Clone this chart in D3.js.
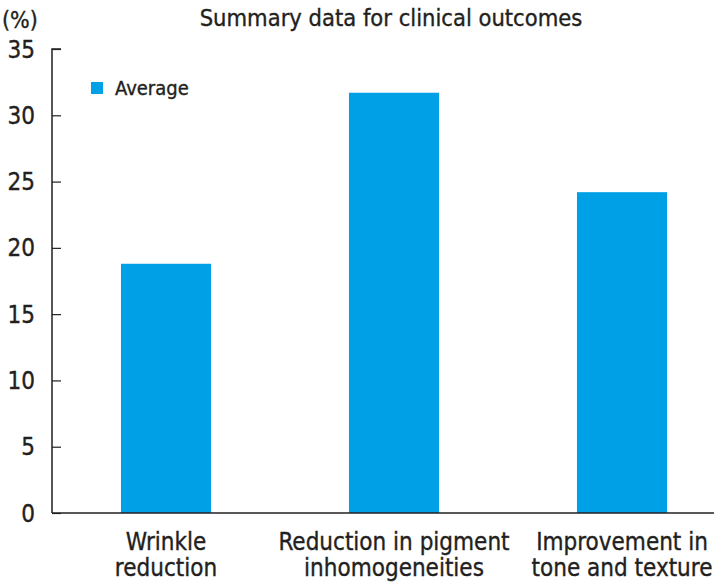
<!DOCTYPE html>
<html><head><meta charset="utf-8">
<script src="https://cdn.jsdelivr.net/npm/d3@7"></script>
<style>
body{margin:0;background:#fff}
text{font-family:"DejaVu Sans Condensed","Liberation Sans Narrow","Open Sans",sans-serif;fill:#231f20;stroke:#231f20;stroke-width:0.35px}
</style></head><body>
<svg id="c" width="714" height="583"></svg>
<script>
const categories = [["Wrinkle","reduction"],["Reduction in pigment","inhomogeneities"],["Improvement in","tone and texture"]];
const values = [18.8, 31.7, 24.2];
const yTicks = [0,5,10,15,20,25,30,35];
const seriesName = "Average";
const title = "Summary data for clinical outcomes";

const svg = d3.select("#c");
const x0 = 52, yBottom = 513, yTop = 49;
const x = d3.scaleBand().domain(d3.range(values.length)).range([x0, 736]).paddingInner(0.605).paddingOuter(0.3025);
const y = d3.scaleLinear().domain([0,35]).range([yBottom, yTop]);
const color = "#00a0e6";

svg.selectAll("rect.bar").data(values).join("rect").attr("class","bar")
  .attr("x",(d,i)=>x(i)).attr("width",x.bandwidth())
  .attr("y",d=>y(d)).attr("height",d=>yBottom-y(d)).attr("fill",color);

// y axis
const yAxis = d3.axisRight(y).tickValues(yTicks).tickSize(9).tickFormat("");
const ga = svg.append("g").attr("transform",`translate(${x0},0)`).call(yAxis);
ga.select(".domain").attr("d",`M9,${yTop}H0V${yBottom}`).attr("stroke","#231f20").attr("stroke-width",1.5);
ga.selectAll(".tick line").attr("stroke","#231f20").attr("stroke-width",1.2);
svg.selectAll("text.yl").data(yTicks).join("text").attr("class","yl")
  .attr("x",35).attr("y",d=>y(d)).attr("dy","0.36em").attr("text-anchor","end")
  .style("font-size","24px").text(d=>d);
svg.append("text").attr("x",2).attr("y",28).style("font-size","23px").text("(%)");

// x axis line
svg.append("line").attr("x1",x0).attr("x2",714).attr("y1",yBottom).attr("y2",yBottom)
  .attr("stroke","#231f20").attr("stroke-width",1.5);

// x labels
categories.forEach((lines,i)=>{
  const cx = x(i)+x.bandwidth()/2;
  const t = svg.append("text").attr("text-anchor","middle").style("font-size","24px");
  lines.forEach((l,j)=>t.append("tspan").attr("x",cx).attr("y",550+j*26).text(l));
});

// title
svg.append("text").attr("x",391).attr("y",26).attr("text-anchor","middle").style("font-size","23.5px").text(title);

// legend
svg.append("rect").attr("x",91).attr("y",82).attr("width",12).attr("height",12).attr("fill",color);
svg.append("text").attr("x",115).attr("y",95).style("font-size","20px").text(seriesName);
</script></body></html>
